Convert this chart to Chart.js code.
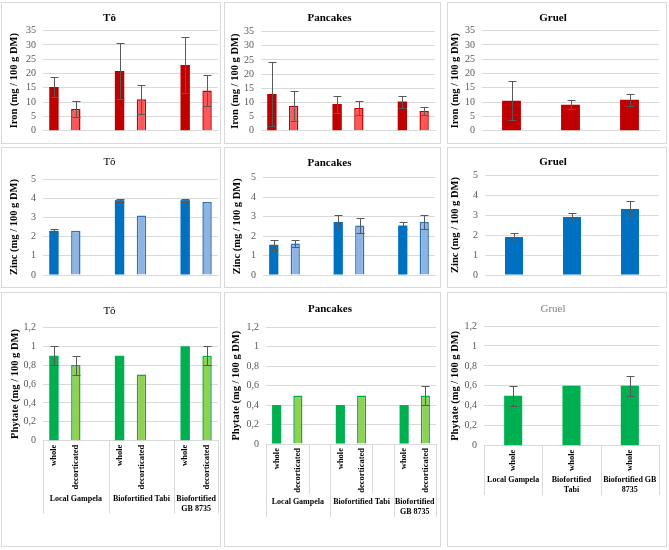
<!DOCTYPE html>
<html>
<head>
<meta charset="utf-8">
<script src="https://cdn.jsdelivr.net/npm/chart.js@4/dist/chart.umd.min.js"></script>
<style>
  body { margin: 0; background: #fff; width: 669px; height: 550px; position: relative; overflow: hidden; }
  canvas { position: absolute; }
  .panel { position: absolute; border: 1px solid #d9d9d9; box-sizing: border-box; pointer-events: none; }
</style>
</head>
<body>
<script>
// categories: three varieties, each "whole" / "decorticated" (plus an empty spacer slot)
const slots = ['whole', 'decorticated', '', 'whole', 'decorticated', '', 'whole', 'decorticated'];
const slotGroup = [0, 0, 0, 1, 1, 1, 2, 2];
const gruelSlots = ['whole', 'whole', 'whole'];
const gruelGroup = [0, 1, 2];
const varieties = ['Local Gampela', 'Biofortified Tabi', 'Biofortified GB 8735'];

// Iron (mg / 100 g DM)
const ironTo = [15.3, 7.6, null, 20.9, 11.0, null, 23.0, 14.1];
const ironToErr = [3.6, 2.7, null, 9.9, 5.0, null, 9.7, 5.5];
const ironPancakes = [13.0, 8.8, null, 9.4, 8.1, null, 10.3, 7.0];
const ironPancakesErr = [11.4, 5.3, null, 3.0, 2.4, null, 2.1, 1.3];
const ironGruel = [10.5, 9.1, 10.8];
const ironGruelErr = [6.8, 1.5, 2.1];

// Zinc (mg / 100 g DM)
const zincTo = [2.3, 2.3, null, 3.9, 3.1, null, 3.9, 3.8];
const zincToErr = [0.1, 0, null, 0.08, 0, null, 0.08, 0];
const zincPancakes = [1.55, 1.62, null, 2.72, 2.55, null, 2.54, 2.72];
const zincPancakesErr = [0.25, 0.17, null, 0.38, 0.37, null, 0.17, 0.38];
const zincGruel = [1.9, 2.9, 3.3];
const zincGruelErr = [0.2, 0.2, 0.4];

// Phytate (mg / 100 g DM)
const phytateTo = [0.9, 0.8, null, 0.9, 0.7, null, 1.0, 0.9];
const phytateToErr = [0.1, 0.1, null, 0, 0, null, 0, 0.1];
const phytatePancakes = [0.4, 0.5, null, 0.4, 0.5, null, 0.4, 0.5];
const phytatePancakesErr = [0, 0, null, 0, 0, null, 0, 0.1];
const phytateGruel = [0.5, 0.6, 0.6];
const phytateGruelErr = [0.1, 0, 0.1];

// y axis tick labels
const ironTicks = ['0', '5', '10', '15', '20', '25', '30', '35'];
const zincTicks = ['0', '1', '2', '3', '4', '5'];
const phytateTicks = ['0', '0,2', '0,4', '0,6', '0,8', '1', '1,2'];

const serif = "'Liberation Serif', 'Times New Roman', serif";

const nutrients = {
  iron: { axis: 'Iron (mg / 100 g DM)', ticks: ironTicks, max: 35, step: 5,
          whole: '#C00000', dec: '#FF5757', border: '#C00000' },
  zinc: { axis: 'Zinc (mg / 100 g DM)', ticks: zincTicks, max: 5, step: 1,
          whole: '#0070C0', dec: '#8EB4E3', border: '#2E75B6' },
  phytate: { axis: 'Phytate (mg / 100 g DM)', ticks: phytateTicks, max: 1.2, step: 0.2,
             whole: '#00B050', dec: '#92D050', border: '#00B050' }
};

const cols = [[1, 221], [224, 441], [447, 667]];
const rows = [[2, 144], [147, 288], [292, 547]];

// error bars drawn from the value/error arrays through the y scale
const errorBars = {
  id: 'errorBars',
  afterDatasetsDraw(chart, args, opts) {
    const { ctx, scales: { y } } = chart;
    const meta = chart.getDatasetMeta(0);
    const vals = chart.data.datasets[0].data;
    ctx.save();
    ctx.strokeStyle = '#595959';
    ctx.lineWidth = 1;
    (opts.errors || []).forEach((e, i) => {
      if (!e || vals[i] == null) return;
      const x = Math.round(meta.data[i].x) + 0.5;
      const y1 = Math.round(y.getPixelForValue(vals[i] + e)) + 0.5;
      const y2 = Math.round(y.getPixelForValue(vals[i] - e)) + 0.5;
      ctx.beginPath();
      ctx.moveTo(x, y1); ctx.lineTo(x, y2);
      ctx.moveTo(x - 4, y1); ctx.lineTo(x + 4, y1);
      ctx.moveTo(x - 4, y2); ctx.lineTo(x + 4, y2);
      ctx.stroke();
    });
    ctx.restore();
  }
};

function wrapText(ctx, text, maxW) {
  const words = text.split(' ');
  const lines = [];
  let line = '';
  words.forEach(w => {
    const t = line ? line + ' ' + w : w;
    if (line && ctx.measureText(t).width > maxW) { lines.push(line); line = w; }
    else line = t;
  });
  lines.push(line);
  return lines;
}

// two level category axis: rotated inner labels + variety names
const categoryAxis = {
  id: 'categoryAxis',
  afterDraw(chart, args, opts) {
    if (!opts.groups) return;
    const { ctx, scales: { x }, chartArea } = chart;
    const labels = chart.data.labels;
    const y0 = chartArea.bottom;
    ctx.save();
    ctx.fillStyle = '#000';
    ctx.font = 'bold 8.5px ' + serif;
    let innerLen = 0;
    labels.forEach((lab, i) => {
      if (!lab) return;
      innerLen = Math.max(innerLen, ctx.measureText(lab).width);
      ctx.save();
      ctx.translate(x.getPixelForValue(i), y0 + 4);
      ctx.rotate(-Math.PI / 2);
      ctx.textAlign = 'right';
      ctx.textBaseline = 'middle';
      ctx.fillText(lab, 0, 0);
      ctx.restore();
    });

    ctx.font = 'bold 8px ' + serif;
    ctx.textAlign = 'center';
    ctx.textBaseline = 'middle';
    const groupY = y0 + 4 + innerLen + 9;
    let bottom = groupY;
    const edges = [];
    opts.groups.forEach((name, g) => {
      const idx = opts.slotGroup.map((s, i) => s === g ? i : -1).filter(i => i >= 0);
      const left = x.getPixelForValue(idx[0] - 0.5);
      const right = x.getPixelForValue(idx[idx.length - 1] + 0.5);
      edges.push(left, right);
      const lines = wrapText(ctx, name, right - left - 4);
      lines.forEach((l, k) => ctx.fillText(l, (left + right) / 2, groupY + k * 10));
      bottom = Math.max(bottom, groupY + (lines.length - 1) * 10);
    });

    ctx.strokeStyle = '#d9d9d9';
    ctx.lineWidth = 1;
    ctx.beginPath();
    [...new Set(edges.map(e => Math.round(e)))].forEach(e => {
      ctx.moveTo(e + 0.5, y0); ctx.lineTo(e + 0.5, bottom + 5);
    });
    if (opts.innerSeps) {
      labels.forEach((lab, i) => {
        if (lab === '' && labels[i - 1]) {
          const e = Math.round(x.getPixelForValue(i - 0.5)) + 0.5;
          ctx.moveTo(e, y0); ctx.lineTo(e, y0 + 4 + innerLen + 1);
        }
      });
    }
    ctx.stroke();
    ctx.restore();
  }
};

function makeChart(spec) {
  const [px0, px1] = cols[spec.col];
  const [py0, py1] = rows[spec.row];
  const W = px1 - px0, H = py1 - py0;
  const n = nutrients[spec.nutrient];
  const l = spec.plot[0] - px0, t = spec.plot[1] - py0;
  const r = spec.plot[2] - px0, b = spec.plot[3] - py0;

  const canvas = document.createElement('canvas');
  canvas.width = W; canvas.height = H;
  canvas.style.left = px0 + 'px'; canvas.style.top = py0 + 'px';
  document.body.appendChild(canvas);
  const frame = document.createElement('div');
  frame.className = 'panel';
  frame.style.cssText = `left:${px0}px;top:${py0}px;width:${W}px;height:${H}px`;
  document.body.appendChild(frame);

  const titleSize = 11;
  const titleRelY = spec.titleY - py0;
  const yTitleSize = 10.5;
  const labels = spec.labels;

  new Chart(canvas, {
    type: 'bar',
    data: {
      labels: labels,
      datasets: [{
        data: spec.data,
        backgroundColor: c => labels[c.dataIndex] === 'decorticated' ? n.dec : n.whole,
        borderColor: n.border,
        borderWidth: c => labels[c.dataIndex] === 'decorticated' ? 1.5 : 0,
        barPercentage: spec.barPct,
        categoryPercentage: 1
      }]
    },
    options: {
      responsive: false,
      animation: false,
      devicePixelRatio: 1,
      layout: { padding: { left: 0, top: 0, bottom: 0, right: W - r } },
      plugins: {
        legend: { display: false },
        tooltip: { enabled: false },
        title: {
          display: true,
          text: spec.title,
          color: spec.titleColor || '#000',
          font: { family: serif, size: titleSize, weight: spec.titleBold ? 'bold' : 'normal' },
          padding: { top: titleRelY - 0.6 * titleSize, bottom: t - titleRelY - 0.6 * titleSize }
        },
        errorBars: { errors: spec.errors },
        categoryAxis: { groups: spec.groups, slotGroup: spec.slotGroup, innerSeps: spec.innerSeps }
      },
      scales: {
        x: {
          offset: true,
          ticks: { display: false },
          grid: { drawOnChartArea: false, drawTicks: false },
          border: { display: true, color: '#d9d9d9' },
          afterFit: s => { s.height = H - b; }
        },
        y: {
          min: 0,
          max: n.max,
          ticks: {
            stepSize: n.step,
            autoSkip: false,
            color: '#595959',
            padding: 7,
            font: { family: serif, size: 10 },
            callback: (v, i) => n.ticks[i]
          },
          grid: { color: '#d9d9d9', drawTicks: false },
          border: { display: false },
          title: {
            display: true,
            text: n.axis,
            color: '#000',
            font: { family: serif, size: yTitleSize, weight: 'bold' },
            padding: { top: spec.yTitleX - px0 - 0.6 * yTitleSize, bottom: 0 }
          },
          afterFit: s => { s.width = l; }
        }
      }
    },
    plugins: [errorBars, categoryAxis]
  });
}

const charts = [
  { row: 0, col: 0, nutrient: 'iron', title: 'Tô', titleBold: true, labels: slots, data: ironTo, errors: ironToErr,
    plot: [43, 30.7, 218, 130.7], titleY: 18, yTitleX: 14.5, barPct: 0.43 },
  { row: 0, col: 1, nutrient: 'iron', title: 'Pancakes', titleBold: true, labels: slots, data: ironPancakes, errors: ironPancakesErr,
    plot: [261, 31.7, 435, 130.7], titleY: 18.3, yTitleX: 235, barPct: 0.43 },
  { row: 0, col: 2, nutrient: 'iron', title: 'Gruel', titleBold: true, labels: gruelSlots, data: ironGruel, errors: ironGruelErr,
    plot: [482, 30.7, 659, 130.7], titleY: 18, yTitleX: 455, barPct: 0.32 },
  { row: 1, col: 0, nutrient: 'zinc', title: 'Tô', titleBold: false, labels: slots, data: zincTo, errors: zincToErr,
    plot: [43, 179, 218, 280], titleY: 162.3, yTitleX: 14.5, barPct: 0.43 },
  { row: 1, col: 1, nutrient: 'zinc', title: 'Pancakes', titleBold: true, labels: slots, data: zincPancakes, errors: zincPancakesErr,
    plot: [263, 177.7, 435, 280], titleY: 163.3, yTitleX: 237, barPct: 0.43 },
  { row: 1, col: 2, nutrient: 'zinc', title: 'Gruel', titleBold: true, labels: gruelSlots, data: zincGruel, errors: zincGruelErr,
    plot: [485, 175, 659, 277.3], titleY: 162.3, yTitleX: 455, barPct: 0.31 },
  { row: 2, col: 0, nutrient: 'phytate', title: 'Tô', titleBold: false, labels: slots, data: phytateTo, errors: phytateToErr,
    plot: [43, 327.3, 218, 440.7], titleY: 310.7, yTitleX: 15, barPct: 0.43,
    groups: varieties, slotGroup: slotGroup },
  { row: 2, col: 1, nutrient: 'phytate', title: 'Pancakes', titleBold: true, labels: slots, data: phytatePancakes, errors: phytatePancakesErr,
    plot: [266, 327.3, 436, 444], titleY: 309, yTitleX: 236, barPct: 0.43,
    groups: varieties, slotGroup: slotGroup, innerSeps: true },
  { row: 2, col: 2, nutrient: 'phytate', title: 'Gruel', titleBold: false, titleColor: '#7f7f7f', labels: gruelSlots, data: phytateGruel, errors: phytateGruelErr,
    plot: [484, 326, 659, 445.7], titleY: 309, yTitleX: 455, barPct: 0.31,
    groups: varieties, slotGroup: gruelGroup }
];

charts.forEach(makeChart);
</script>
</body>
</html>
